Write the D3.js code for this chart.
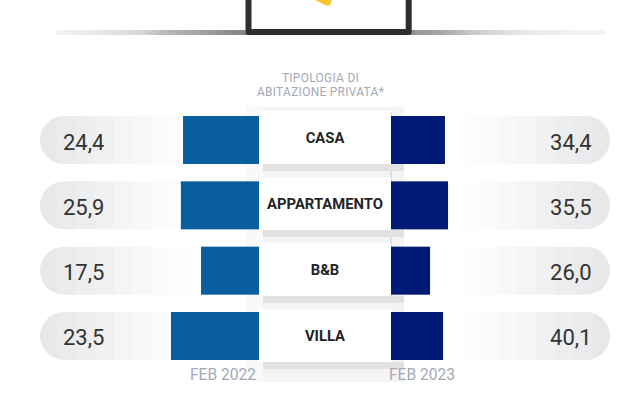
<!DOCTYPE html>
<html><head><meta charset="utf-8">
<script src="https://cdn.jsdelivr.net/npm/d3@7"></script>
<style>html,body{margin:0;padding:0;background:#fff}svg{display:block}</style>
</head><body><svg id="c" width="625" height="406"></svg>
<script>
const categories = ["CASA","APPARTAMENTO","B&B","VILLA"];
const labels2022 = ["24,4","25,9","17,5","23,5"];
const labels2023 = ["34,4","35,5","26,0","40,1"];
// bar lengths as drawn in the picture (they are not proportional to the printed labels)
const bars2022 = [24.5,25.2,18.7,28.4];
const bars2023 = [17.4,18.4,12.6,16.8];
const periods = ["FEB 2022","FEB 2023"];
const titleLines = ["TIPOLOGIA DI","ABITAZIONE PRIVATA*"];

const font = "Roboto, sans-serif";
const svg = d3.select("#c");
const defs = svg.append("defs");
function grad(id,stops){
  const g = defs.append("linearGradient").attr("id",id).attr("x1","0").attr("x2","1").attr("y1","0").attr("y2","0");
  stops.forEach(s=>g.append("stop").attr("offset",s[0]).attr("stop-color",s[1]));
}
// stepped pill fade, as in the reference
const fadeColours = ["#e7e8ea","#eaebec","#edeeef","#f1f1f2","#f5f5f5","#f8f8f7","#fbfbfb","#fdfdfd"];
const stepEdges = [0.03,0.063,0.096,0.13,0.163,0.196,0.23,0.262];
const pillStops = [];
fadeColours.forEach((c,i)=>{pillStops.push([i?stepEdges[i-1]:0,c]);pillStops.push([stepEdges[i],c]);});
pillStops.push([stepEdges[7],"#ffffff"]);pillStops.push([1-stepEdges[7],"#ffffff"]);
fadeColours.slice().reverse().forEach((c,i,a)=>{const j=a.length-1-i;pillStops.push([1-stepEdges[j],c]);pillStops.push([j?1-stepEdges[j-1]:1,c]);});
grad("pill",pillStops);
grad("rule",[[0,"#f4f3f1"],[0.093,"#e6e5e2"],[0.153,"#d8d7d3"],[0.195,"#bcbcba"],[0.23,"#adadab"],[0.26,"#a6a6a5"],[0.29,"#969696"],[0.327,"#888888"],[0.645,"#8d8d8d"],[0.66,"#999999"],[0.696,"#a5a5a4"],[0.73,"#b8b8b5"],[0.764,"#cccbc7"],[0.8,"#d8d8d5"],[0.83,"#e3e3e1"],[0.867,"#eaeaea"],[0.9,"#eeeeed"],[0.93,"#f1f1f0"],[1,"#f4f4f3"]]);

// top decoration
svg.append("rect").attr("x",56).attr("y",30).attr("width",550).attr("height",5).attr("fill","url(#rule)");
svg.append("path").attr("d","M248.5,-5V32H408.7V-5").attr("fill","none").attr("stroke","#2e2e2e").attr("stroke-width",6).attr("stroke-linejoin","round");
svg.append("path").attr("d","M315,0L326,5.5L330,5.5L332,0Z").attr("fill","#fdc62e");

// title
svg.append("g").selectAll("text").data(titleLines).join("text")
  .attr("x",320.5).attr("y",(d,i)=>81.5+i*14).attr("text-anchor","middle")
  .attr("font-family",font).attr("font-size",11.9).attr("letter-spacing",0.32).attr("fill","#a4a9b5").text(d=>d);

// scales
const y = d3.scaleBand().domain(categories).range([116,360]).paddingInner(0.265).paddingOuter(0);
const yCard = d3.scaleBand().domain(categories).range([111,362]).paddingInner(0.197).paddingOuter(0);
const xL = d3.scaleLinear().domain([0,10]).range([259,228]);
const xR = d3.scaleLinear().domain([0,10]).range([391,422]);

// pills
const rows = svg.append("g").selectAll("g").data(categories).join("g");
rows.append("rect").attr("x",40).attr("y",d=>y(d)).attr("width",570).attr("height",y.bandwidth())
  .attr("rx",24).attr("fill","url(#pill)");

// central panel behind bars and cards
svg.append("rect").attr("x",246).attr("y",107).attr("width",158).attr("height",275).attr("fill","#f9f9f9");
svg.append("rect").attr("x",263).attr("y",107).attr("width",141).attr("height",275).attr("fill","#f4f4f4");
svg.append("rect").attr("x",390.5).attr("y",112).attr("width",1).attr("height",190).attr("fill","#a5d7df");

// bars
const bars = svg.append("g").selectAll("g").data(categories).join("g");
bars.append("rect").attr("x",(d,i)=>xL(bars2022[i])).attr("y",d=>y(d))
  .attr("width",(d,i)=>xL(0)-xL(bars2022[i])).attr("height",y.bandwidth()).attr("fill","#085e9f");
bars.append("rect").attr("x",xR(0)).attr("y",d=>y(d))
  .attr("width",(d,i)=>xR(bars2023[i])-xR(0)).attr("height",y.bandwidth()).attr("fill","#011a75");

// cards with their shadow strip
const cards = svg.append("g").selectAll("g").data(categories).join("g");
cards.append("rect").attr("x",263).attr("y",d=>yCard(d)+yCard.bandwidth()).attr("width",141).attr("height",7).attr("fill","#e1e1e1");
cards.append("rect").attr("x",259).attr("y",d=>yCard(d)).attr("width",132).attr("height",yCard.bandwidth()).attr("fill","#fff");
cards.append("text").attr("x",325).attr("y",d=>yCard(d)+31.5).attr("text-anchor","middle")
  .attr("font-family",font).attr("font-size",14.8).attr("font-weight",700).attr("fill","#252525").text(d=>d);

// value labels
const vals = svg.append("g").selectAll("g").data(categories).join("g");
vals.append("text").attr("x",63).attr("y",d=>y(d)+33.5).attr("font-family",font).attr("font-size",22).attr("fill","#333")
  .text((d,i)=>labels2022[i]);
vals.append("text").attr("x",591.5).attr("y",d=>y(d)+33.5).attr("text-anchor","end").attr("font-family",font).attr("font-size",22).attr("fill","#333")
  .text((d,i)=>labels2023[i]);

// period labels
svg.append("g").selectAll("text").data(periods).join("text")
  .attr("x",(d,i)=>i?422:223).attr("y",380).attr("text-anchor","middle")
  .attr("font-family",font).attr("font-size",15.6).attr("fill","#a4a9b5").text(d=>d);
</script></body></html>
